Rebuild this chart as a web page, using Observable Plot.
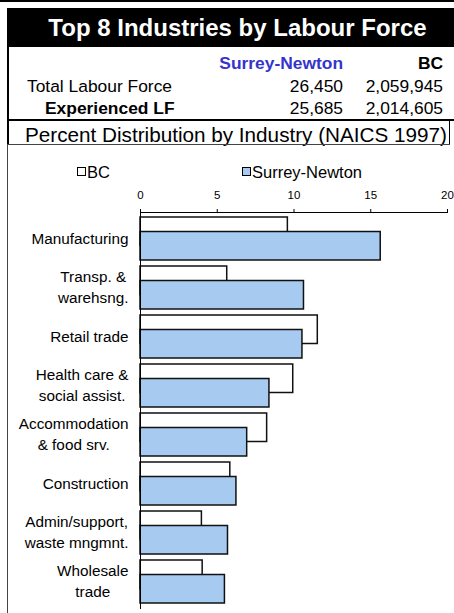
<!DOCTYPE html>
<html>
<head>
<meta charset="utf-8">
<script src="https://cdn.jsdelivr.net/npm/d3@7"></script>
<script src="https://cdn.jsdelivr.net/npm/@observablehq/plot@0.6"></script>
<style>
  html, body { margin: 0; padding: 0; background: #fff; }
  body { width: 454px; height: 613px; position: relative; overflow: hidden;
         font-family: "Liberation Sans", Arial, sans-serif; color: #000; }
  .abs { position: absolute; white-space: nowrap; }
  #topline { left: 0; top: 0; width: 454px; height: 2px; background: #000; }
  #title { left: 7px; top: 8px; width: 447px; height: 39px; background: #000; color: #fff;
           font-weight: bold; font-size: 24px; line-height: 39px; text-align: center;
           padding-left: 14px; box-sizing: border-box; }
  #tablebox { left: 7px; top: 47px; width: 447px; height: 74px; border-left: 2px solid #000;
              border-bottom: 2px solid #000; box-sizing: border-box; }
  .t { font-size: 17.4px; line-height: 20px; }
  .r { text-align: right; }
  #pctrow { left: 7px; top: 121px; width: 443px; height: 24px; border-left: 2px solid #000;
            border-right: 1px solid #000; box-sizing: border-box; }
  #pct { left: 25px; top: 124px; font-size: 20.7px; line-height: 22px; }
  #chartbox { left: 7px; top: 144px; width: 443px; height: 480px; border-left: 1px solid #444;
              border-top: 1px solid #444; box-sizing: border-box; }
  .lg { font-size: 16.5px; line-height: 18px; top: 163px; }
  .sw { width: 7px; height: 7px; border: 1px solid #000; top: 167px; }
  #chart { left: 0; top: 145px; }
</style>
</head>
<body>
<div id="topline" class="abs"></div>
<div id="title" class="abs">Top 8 Industries by Labour Force</div>
<div id="tablebox" class="abs"></div>
<div id="h1" class="abs t r" style="right:111px; top:53px; font-weight:bold; color:#3535cc;">Surrey-Newton</div>
<div id="h2" class="abs t r" style="right:11px; top:53px; font-weight:bold;">BC</div>
<div id="l1" class="abs t" style="left:27px; top:76px;">Total Labour Force</div>
<div id="l2" class="abs t" style="left:45px; top:98px; font-weight:bold;">Experienced LF</div>
<div id="v11" class="abs t r" style="right:111px; top:76px;"></div>
<div id="v12" class="abs t r" style="right:11px; top:76px;"></div>
<div id="v21" class="abs t r" style="right:111px; top:98px;"></div>
<div id="v22" class="abs t r" style="right:11px; top:98px;"></div>
<div id="pctrow" class="abs"></div>
<div id="pct" class="abs">Percent Distribution by Industry (NAICS 1997)</div>
<div id="chartbox" class="abs"></div>
<div class="abs sw" style="left:77px; background:#fff;"></div>
<div id="lgbc" class="abs lg" style="left:87px;"></div>
<div class="abs sw" style="left:242px; background:#a6caf0;"></div>
<div id="lgsn" class="abs lg" style="left:252px;"></div>
<div id="chart" class="abs"></div>
<script>
// ---- data ----
const seriesNames = ["BC", "Surrey-Newton"];
const totalLabourForce = ["26,450", "2,059,945"];   // Surrey-Newton, BC
const experiencedLF = ["25,685", "2,014,605"];      // Surrey-Newton, BC
const industries = [
  "Manufacturing",
  "Transp. &\nwarehsng.",
  "Retail trade",
  "Health care &\nsocial assist.",
  "Accommodation\n& food srv.",
  "Construction",
  "Admin/support,\nwaste mngmnt.",
  "Wholesale\ntrade"
];
const bcPct = [9.6, 5.65, 11.55, 9.95, 8.25, 5.85, 4.0, 4.05];
const surreyNewtonPct = [15.65, 10.65, 10.55, 8.4, 6.95, 6.25, 5.7, 5.5];
const xTicks = [0, 5, 10, 15, 20];

// ---- text fill ----
document.getElementById("v11").textContent = totalLabourForce[0];
document.getElementById("v12").textContent = totalLabourForce[1];
document.getElementById("v21").textContent = experiencedLF[0];
document.getElementById("v22").textContent = experiencedLF[1];
document.getElementById("lgbc").textContent = seriesNames[0];
document.getElementById("lgsn").textContent = seriesNames[1];

const rows = industries.map((c, i) => ({cat: c, bc: bcPct[i], sn: surreyNewtonPct[i]}));

const chart = Plot.plot({
  width: 454,
  height: 468,
  marginLeft: 140,
  marginRight: 7,
  marginTop: 67,
  marginBottom: 4,
  style: {fontFamily: '"Liberation Sans", Arial, sans-serif', fontSize: "11px", color: "#000", background: "transparent"},
  x: {domain: [0, 20], axis: null},
  y: {domain: industries, axis: null, paddingInner: 0.12, paddingOuter: 0.08},
  marks: [
    Plot.barX(rows, {y: "cat", x: "bc", fill: "#fff", stroke: "#111", strokeWidth: 1.5, insetBottom: 14.5}),
    Plot.barX(rows, {y: "cat", x: "sn", fill: "#a6caf0", stroke: "#111", strokeWidth: 1.5, insetTop: 14.5}),
    Plot.ruleX([0], {stroke: "#000", strokeWidth: 1}),
    Plot.frame({anchor: "top", stroke: "#000", strokeWidth: 1}),
    Plot.axisX({anchor: "top", ticks: xTicks, tickSize: 4, tickPadding: 10, fontSize: 11.5, stroke: "#000"}),
    Plot.text(rows, {y: "cat", x: 0, text: "cat", dx: -12, dy: -2, textAnchor: "end", lineAnchor: "middle",
                     lineHeight: 1.33, fontSize: 15.3, fill: "#000", className: "ylab"})
  ]
});
document.getElementById("chart").appendChild(chart);

// center the lines of each wrapped label within its right-aligned block
chart.querySelectorAll(".ylab text").forEach(t => {
  const spans = t.querySelectorAll("tspan");
  if (spans.length < 2) return;
  let w = 0;
  spans.forEach(s => { w = Math.max(w, s.getComputedTextLength()); });
  t.setAttribute("text-anchor", "middle");
  spans.forEach(s => s.setAttribute("x", String(-w / 2)));
});
</script>
</body>
</html>
